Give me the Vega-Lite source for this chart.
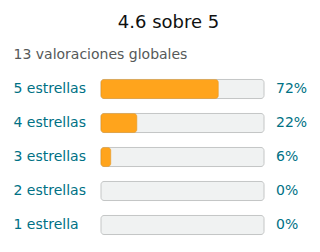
{
  "$schema": "https://vega.github.io/schema/vega-lite/v6.json",
  "autosize": "none",
  "width": 163,
  "height": 170,
  "padding": {"left": 101, "top": 72, "right": 56, "bottom": 10},
  "background": "white",
  "config": {"view": {"stroke": null}, "font": "DejaVu Sans"},
  "title": {"text": "4.6 sobre 5", "fontSize": 18, "fontWeight": "normal", "color": "#0f1111", "anchor": "middle", "dx": -14, "offset": 15},
  "data": {"values": [
    {"label": "5 estrellas", "pct": 0.72},
    {"label": "4 estrellas", "pct": 0.22},
    {"label": "3 estrellas", "pct": 0.06},
    {"label": "2 estrellas", "pct": 0},
    {"label": "1 estrella", "pct": 0}
  ]},
  "layer": [
    {"mark": {"type": "bar", "fill": "#f0f2f2", "stroke": "#c4c6c6", "strokeWidth": 1, "cornerRadius": 3},
     "encoding": {
       "y": {"field": "label", "type": "nominal", "sort": null,
         "scale": {"paddingInner": 0.44, "paddingOuter": 0.22},
         "axis": {"title": "13 valoraciones globales", "titleAngle": 0, "titleAlign": "left", "titleBaseline": "alphabetic", "titleX": -88, "titleY": -14, "titleFontSize": 14, "titleFontWeight": "normal", "titleColor": "#565959",
           "domain": false, "ticks": false, "labelAlign": "left", "labelPadding": 88, "labelFontSize": 14, "labelColor": "#007185"}},
       "x": {"datum": 0, "type": "quantitative", "scale": {"domain": [0, 1]}, "axis": null},
       "x2": {"datum": 1}}},
    {"transform": [{"filter": "datum.pct > 0"}],
     "mark": {"type": "bar", "fill": "#ffa41c", "stroke": "#e8961a", "strokeWidth": 0.5, "cornerRadius": 3},
     "encoding": {
       "y": {"field": "label", "type": "nominal", "sort": null},
       "x": {"field": "pct", "type": "quantitative"}}},
    {"mark": {"type": "text", "align": "left", "dx": 12, "fontSize": 14, "color": "#007185"},
     "encoding": {
       "y": {"field": "label", "type": "nominal", "sort": null},
       "x": {"datum": 1, "type": "quantitative"},
       "text": {"field": "pct", "type": "quantitative", "format": ".0%"}}}
  ]
}
